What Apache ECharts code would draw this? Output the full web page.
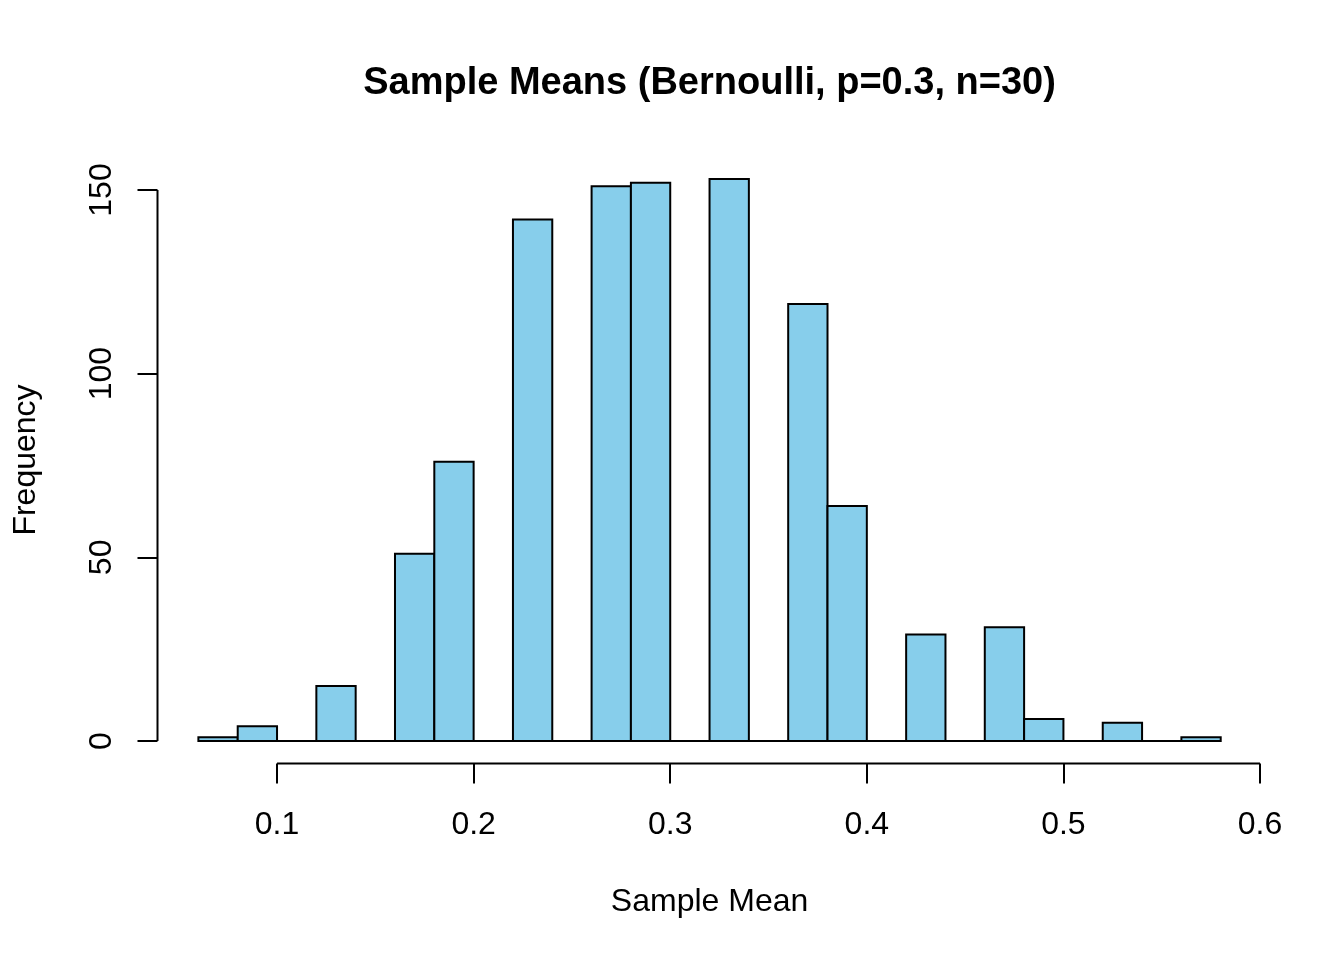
<!DOCTYPE html>
<html>
<head>
<meta charset="utf-8">
<script src="https://cdn.jsdelivr.net/npm/echarts@6/dist/echarts.min.js"></script>
<style>
  html, body { margin: 0; padding: 0; background: #fff; }
  #main { width: 1344px; height: 960px; }
</style>
</head>
<body>
<div id="main"></div>
<script>
// histogram bins (left edges, width 0.02) and counts
var binStart = [0.06, 0.08, 0.10, 0.12, 0.14, 0.16, 0.18, 0.20, 0.22, 0.24, 0.26, 0.28, 0.30,
                0.32, 0.34, 0.36, 0.38, 0.40, 0.42, 0.44, 0.46, 0.48, 0.50, 0.52, 0.54, 0.56];
var binWidth = 0.02;
var counts = [1, 4, 0, 15, 0, 51, 76, 0, 142, 0, 151, 152, 0,
              153, 0, 119, 64, 0, 29, 0, 31, 6, 0, 5, 0, 1];
var xTicks = [0.1, 0.2, 0.3, 0.4, 0.5, 0.6];
var xTickLabels = ['0.1', '0.2', '0.3', '0.4', '0.5', '0.6'];
var yTicks = [0, 50, 100, 150];

// R style 4% padding of the axis ranges
var xMin = 0.06 - 0.04 * 0.52, xMax = 0.58 + 0.04 * 0.52;
var yMin = -0.04 * 153, yMax = 153 * 1.04;

var font = '"Liberation Sans", Arial, sans-serif';

var barData = [];
for (var i = 0; i < binStart.length; i++) {
  barData.push([binStart[i], binStart[i] + binWidth, counts[i]]);
}

var myChart = echarts.init(document.getElementById('main'));
var option = {
  backgroundColor: '#ffffff',
  animation: false,
  title: {
    text: 'Sample Means (Bernoulli, p=0.3, n=30)',
    left: 704.5,
    top: 60,
    textAlign: 'center',
    textStyle: { fontFamily: font, fontSize: 38, fontWeight: 'bold', color: '#000' }
  },
  grid: { left: 157.5, right: 82.4, top: 156.5, bottom: 196.5, containLabel: false },
  xAxis: {
    type: 'value',
    min: xMin,
    max: xMax,
    name: 'Sample Mean',
    nameLocation: 'middle',
    nameGap: 123,
    nameTextStyle: { fontFamily: font, fontSize: 32, color: '#000' },
    axisLine: { show: false, onZero: false },
    splitLine: { show: false },
    axisTick: {
      show: true, length: 20, inside: false, customValues: xTicks,
      lineStyle: { color: '#000', width: 2 }
    },
    axisLabel: {
      customValues: xTicks,
      margin: 45.5,
      fontFamily: font, fontSize: 32, color: '#000',
      formatter: function (v) {
        var k = xTicks.indexOf(v);
        return k >= 0 ? xTickLabels[k] : '';
      }
    }
  },
  yAxis: {
    type: 'value',
    min: yMin,
    max: yMax,
    name: 'Frequency',
    nameLocation: 'middle',
    nameGap: 115,
    nameTextStyle: { fontFamily: font, fontSize: 32, color: '#000' },
    axisLine: { show: false, onZero: false },
    splitLine: { show: false },
    axisTick: {
      show: true, length: 20, inside: false, customValues: yTicks,
      lineStyle: { color: '#000', width: 2 }
    },
    axisLabel: {
      customValues: yTicks,
      rotate: 90,
      margin: 39,
      fontFamily: font, fontSize: 32, color: '#000'
    }
  },
  series: [
    {
      type: 'custom',
      data: barData,
      encode: { x: [0, 1], y: 2 },
      clip: false,
      renderItem: function (params, api) {
        var p0 = api.coord([api.value(0), api.value(2)]);
        var p1 = api.coord([api.value(1), 0]);
        return {
          type: 'rect',
          shape: { x: p0[0], y: p0[1], width: p1[0] - p0[0], height: p1[1] - p0[1] },
          style: { fill: '#87CEEB', stroke: '#000', lineWidth: 2 }
        };
      }
    },
    {
      // x axis line, R draws it only between the first and last tick
      type: 'line',
      data: [[xTicks[0], yMin], [xTicks[xTicks.length - 1], yMin]],
      symbol: 'none',
      clip: false,
      lineStyle: { color: '#000', width: 2 },
      silent: true
    },
    {
      // y axis line
      type: 'line',
      data: [[xMin, yTicks[0]], [xMin, yTicks[yTicks.length - 1]]],
      symbol: 'none',
      clip: false,
      lineStyle: { color: '#000', width: 2 },
      silent: true
    }
  ]
};
myChart.setOption(option);
window.onresize = function () {
  myChart.resize();
};
</script>
</body>
</html>
